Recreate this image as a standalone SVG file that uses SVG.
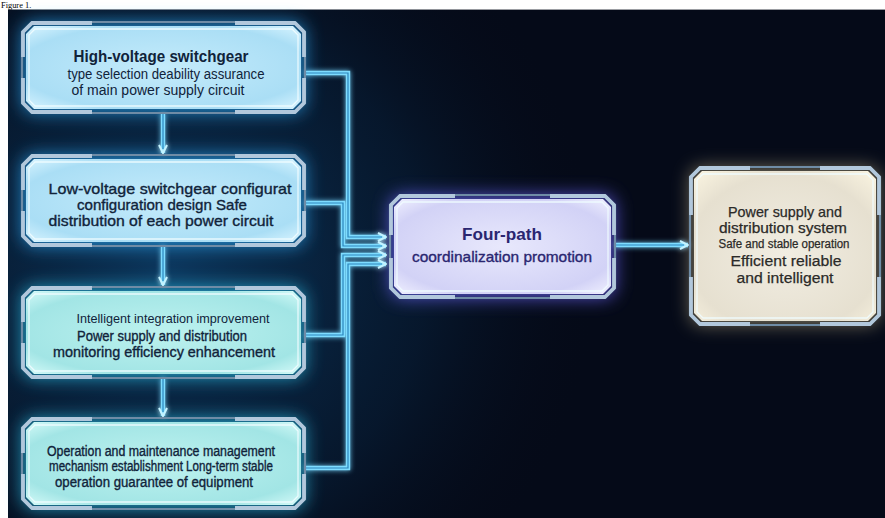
<svg xmlns="http://www.w3.org/2000/svg" width="885" height="518" viewBox="0 0 885 518">
<defs>
<style>
.t{font-family:"Liberation Sans",Arial,sans-serif;text-anchor:middle;fill:#10233a}
.b{font-weight:bold}
.m{stroke:#10233a;stroke-width:0.35}
.cp{fill:#2a2670}
.cpm{stroke:#2a2670;stroke-width:0.35}
.cr{fill:#2b2a28;stroke:#2b2a28;stroke-width:0.25}
.frame{fill:none;stroke:#6f8ca6;stroke-width:2.2}
.inner{fill:none;stroke:#effcff;stroke-width:1.3;opacity:0.9}
.brk{fill:none;stroke:#b2c8dc;stroke-width:3.8;stroke-linejoin:round}
.tube{fill:none;stroke:#7edcff;stroke-width:4.4}
.core{fill:none;stroke:#2b86bd;stroke-width:1.2}
</style>
<filter id="blur" x="-40%" y="-40%" width="180%" height="180%"><feGaussianBlur stdDeviation="9"/></filter>
<filter id="glow" x="-20%" y="-20%" width="140%" height="140%"><feGaussianBlur in="SourceGraphic" stdDeviation="2.5" result="b"/><feMerge><feMergeNode in="b"/><feMergeNode in="SourceGraphic"/></feMerge></filter>
<radialGradient id="bgL" cx="170" cy="270" r="430" gradientUnits="userSpaceOnUse"><stop offset="0" stop-color="#0d3a62" stop-opacity="0.95"/><stop offset="0.6" stop-color="#082440" stop-opacity="0.5"/><stop offset="1" stop-color="#050a18" stop-opacity="0"/></radialGradient>
<radialGradient id="gBlue" cx="0.5" cy="0.5" r="0.7"><stop offset="0" stop-color="#c4ebfb"/><stop offset="0.75" stop-color="#aadef5"/><stop offset="1" stop-color="#d8f4ff"/></radialGradient>
<radialGradient id="gTeal" cx="0.5" cy="0.5" r="0.7"><stop offset="0" stop-color="#bdf2ef"/><stop offset="0.75" stop-color="#a2e5e5"/><stop offset="1" stop-color="#d4faf8"/></radialGradient>
<radialGradient id="gPurp" cx="0.5" cy="0.5" r="0.7"><stop offset="0" stop-color="#e8e8fc"/><stop offset="0.75" stop-color="#d2d2f6"/><stop offset="1" stop-color="#f0f0ff"/></radialGradient>
<radialGradient id="gCream" cx="0.5" cy="0.55" r="0.7"><stop offset="0" stop-color="#f1ede2"/><stop offset="0.75" stop-color="#e6e0d0"/><stop offset="1" stop-color="#f7f1de"/></radialGradient>
<marker id="chev" viewBox="0 0 10 10" refX="9" refY="5" markerWidth="10" markerHeight="10" markerUnits="userSpaceOnUse" orient="auto"><path d="M1,1 L9,5 L1,9" fill="none" stroke="#c4f3ff" stroke-width="2"/></marker>
<symbol id="frameL" viewBox="0 0 283 91" width="283" height="91" overflow="visible">
<path d="M12,4 H271 L279,12 V79 L271,87 H12 L4,79 V12 Z"/>
<path class="inner" d="M13,7 H270 L276,13 V78 L270,84 H13 L7,78 V13 Z"/>
<path class="frame" d="M10,0 H273 L283,10 V81 L273,91 H10 L0,81 V10 Z"/>
<path class="brk" d="M1,35 V10 L10,1 H70 M282,35 V10 L273,1 H213 M1,56 V81 L10,90 H70 M282,56 V81 L273,90 H213"/>
</symbol>
</defs>

<rect x="0" y="0" width="885" height="518" fill="#ffffff"/>
<rect x="8" y="9.6" width="877" height="508.4" fill="#050a18"/>
<rect x="8" y="9.6" width="877" height="508.4" fill="url(#bgL)"/>
<text x="1" y="7.6" font-family="Liberation Serif,Times New Roman,serif" font-size="8.4" fill="#000">Figure 1.</text>

<g id="glows">
<rect x="22" y="22" width="283" height="91" rx="12" fill="#2fb0ff" opacity="0.7" filter="url(#blur)"/>
<rect x="22" y="155" width="283" height="91" rx="12" fill="#2fb0ff" opacity="0.7" filter="url(#blur)"/>
<rect x="22" y="287" width="283" height="91" rx="12" fill="#2fc8f0" opacity="0.7" filter="url(#blur)"/>
<rect x="22" y="418" width="283" height="91" rx="12" fill="#2fc8f0" opacity="0.7" filter="url(#blur)"/>
<rect x="390" y="195" width="225" height="103" rx="12" fill="#7068ff" opacity="0.75" filter="url(#blur)"/>
<rect x="690" y="167" width="190" height="158" rx="12" fill="#c9b98a" opacity="0.55" filter="url(#blur)"/>
</g>

<g id="connectors" filter="url(#glow)">
<path class="tube" d="M163,113 V153" marker-end="url(#chev)"/>
<path class="tube" d="M163,246 V285" marker-end="url(#chev)"/>
<path class="tube" d="M163,378 V416" marker-end="url(#chev)"/>
<path class="tube" d="M305,73 H348 V237 H386" marker-end="url(#chev)"/>
<path class="tube" d="M305,203 H343 V246 H386" marker-end="url(#chev)"/>
<path class="tube" d="M305,335 H343 V255 H386" marker-end="url(#chev)"/>
<path class="tube" d="M305,468 H348 V264 H386" marker-end="url(#chev)"/>
<path class="tube" d="M615,245 H688" marker-end="url(#chev)"/>
<path class="core" d="M163,113 V149 M163,246 V281 M163,378 V412 M305,73 H348 V237 H382 M305,203 H343 V246 H382 M305,335 H343 V255 H382 M305,468 H348 V264 H382 M615,245 H684"/>
</g>

<g id="n1">
<use href="#frameL" x="22" y="22" fill="url(#gBlue)"/>
<text class="t b" x="161" y="62" font-size="16" textLength="175" lengthAdjust="spacingAndGlyphs">High-voltage switchgear</text>
<text class="t" x="166" y="79" font-size="14" textLength="197" lengthAdjust="spacingAndGlyphs">type selection deability assurance</text>
<text class="t" x="158" y="95" font-size="14" textLength="173" lengthAdjust="spacingAndGlyphs">of main power supply circuit</text>
</g>

<g id="n2">
<use href="#frameL" x="22" y="155" fill="url(#gBlue)"/>
<text class="t m" x="170" y="194" font-size="15" textLength="243" lengthAdjust="spacingAndGlyphs">Low-voltage switchgear configurat</text>
<text class="t m" x="162" y="210" font-size="15" textLength="170" lengthAdjust="spacingAndGlyphs">configuration design Safe</text>
<text class="t m" x="161" y="226" font-size="15" textLength="225" lengthAdjust="spacingAndGlyphs">distribution of each power circuit</text>
</g>

<g id="n3">
<use href="#frameL" x="22" y="287" fill="url(#gTeal)"/>
<text class="t" x="173" y="323" font-size="13.5" textLength="193" lengthAdjust="spacingAndGlyphs">Intelligent integration improvement</text>
<text class="t m" x="162" y="341" font-size="14.5" textLength="170" lengthAdjust="spacingAndGlyphs">Power supply and distribution</text>
<text class="t m" x="164" y="357" font-size="14.5" textLength="222" lengthAdjust="spacingAndGlyphs">monitoring efficiency enhancement</text>
</g>

<g id="n4">
<use href="#frameL" x="22" y="418" fill="url(#gTeal)"/>
<text class="t m" x="161" y="456" font-size="14" textLength="228" lengthAdjust="spacingAndGlyphs">Operation and maintenance management</text>
<text class="t m" x="161" y="471" font-size="14" textLength="224" lengthAdjust="spacingAndGlyphs">mechanism establishment Long-term stable</text>
<text class="t m" x="154" y="487" font-size="14" textLength="198" lengthAdjust="spacingAndGlyphs">operation guarantee of equipment</text>
</g>

<g id="center">
<path d="M402,199 H603 L611,207 V286 L603,294 H402 L394,286 V207 Z" fill="url(#gPurp)"/>
<path class="inner" d="M403,202 H602 L608,208 V285 L602,291 H403 L397,285 V208 Z"/>
<path class="frame" d="M400,195 H605 L615,205 V288 L605,298 H400 L390,288 V205 Z" stroke="#7d86b8"/>
<path class="brk" d="M391,235 V205 L400,196 H455 M614,235 V205 L605,196 H550 M391,258 V288 L400,297 H455 M614,258 V288 L605,297 H550" stroke="#c2c8ea"/>
<text class="t b cp" x="502" y="240" font-size="17" textLength="80" lengthAdjust="spacingAndGlyphs">Four-path</text>
<text class="t cp cpm" x="502" y="262" font-size="15" textLength="180" lengthAdjust="spacingAndGlyphs">coordinalization promotion</text>
</g>

<g id="result">
<path d="M702,171 H868 L876,179 V313 L868,321 H702 L694,313 V179 Z" fill="url(#gCream)"/>
<path class="inner" d="M703,174 H867 L873,180 V312 L867,318 H703 L697,312 V180 Z" stroke="#fffaf0"/>
<path class="frame" d="M700,167 H870 L880,177 V315 L870,325 H700 L690,315 V177 Z" stroke="#5f86ad"/>
<path class="brk" d="M691,215 V177 L700,168 H750 M879,215 V177 L870,168 H820 M691,277 V315 L700,324 H750 M879,277 V315 L870,324 H820" stroke="#8fb3d6"/>
<text class="t cr" x="785" y="217" font-size="14.5" textLength="114" lengthAdjust="spacingAndGlyphs">Power supply and</text>
<text class="t cr" x="783" y="233" font-size="14.5" textLength="128" lengthAdjust="spacingAndGlyphs">distribution system</text>
<text class="t cr" x="784" y="248" font-size="12" textLength="131" lengthAdjust="spacingAndGlyphs">Safe and stable operation</text>
<text class="t cr" x="786" y="266" font-size="15.5" textLength="111" lengthAdjust="spacingAndGlyphs">Efficient reliable</text>
<text class="t cr" x="785" y="283" font-size="15.5" textLength="97" lengthAdjust="spacingAndGlyphs">and intelligent</text>
</g>
</svg>
